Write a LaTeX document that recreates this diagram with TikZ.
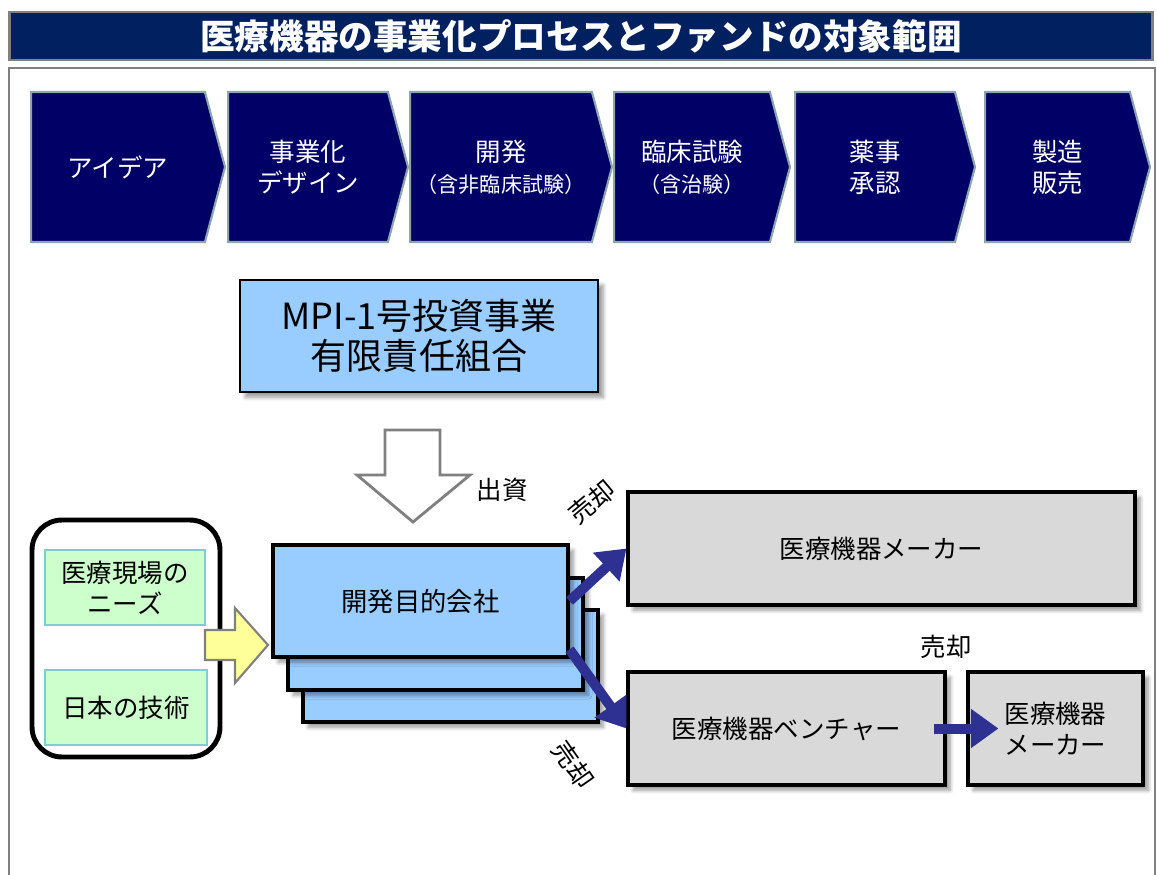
\documentclass[tikz,border=0pt]{standalone}
\usepackage{fontspec}
\setmainfont{Noto Sans CJK JP}
\usepackage{tikz}
\usetikzlibrary{positioning, shapes.symbols, arrows.meta, shadows.blur}

\definecolor{titlenavy}{HTML}{002060}
\definecolor{stagenavy}{HTML}{000066}
\definecolor{stageedge}{HTML}{8FA5AE}
\definecolor{fundblue}{HTML}{99CCFF}
\definecolor{seedgreen}{HTML}{CCFFCC}
\definecolor{seededge}{HTML}{7CCFCF}
\definecolor{makergray}{HTML}{D9D9D9}
\definecolor{sellnavy}{HTML}{2E3192}
\definecolor{framegray}{HTML}{808080}
\definecolor{feedyellow}{HTML}{FFFF99}

\newcommand{\stagenote}[1]{{\fontsize{12}{14}\selectfont #1}}

\begin{document}
\begin{tikzpicture}[
                    x=0.02cm, y=-0.02cm,
                    every node/.style={align=center, font=\fontsize{14.5}{17.5}\selectfont},
                    titlebar/.style={draw=framegray, line width=1.6pt, fill=titlenavy, text=white, minimum width=22.88cm, minimum height=0.96cm, font=\bfseries\fontsize{19.7}{22}\selectfont},
                    stage/.style={shape=signal, signal to=east, signal pointer angle=150, fill=stagenavy, draw=stageedge, line width=1.2pt, text=white, minimum height=3cm, inner sep=0pt},
                    panel/.style={draw, line width=1.8pt, minimum height=2.26cm, blur shadow={shadow xshift=3pt, shadow yshift=-3pt, shadow blur steps=6}},
                    fund/.style={panel, fill=fundblue, line width=0.8pt, minimum width=7.16cm, minimum height=2.24cm, font=\fontsize{20.5}{22.8}\selectfont},
                    company/.style={panel, fill=fundblue, minimum width=5.9cm, minimum height=2.24cm, font=\fontsize{15}{18}\selectfont},
                    maker/.style={panel, fill=makergray},
                    seed/.style={draw=seededge, fill=seedgreen, line width=0.8pt, minimum height=1.5cm},
                    sell/.style={-{Triangle[width=0.75cm, length=0.55cm]}, draw=sellnavy, line width=0.2cm},
                    hollow/.style={draw=framegray, line width=1.6pt, line join=miter}
                ]

                    \useasboundingbox (0,0) rectangle (1157,875);

                    % Title and frame
                    \node (title) [titlebar] at (581,36) {医療機器の事業化プロセスとファンドの対象範囲};
                    \draw[framegray, line width=1.6pt] (9,68) rectangle (1155,900);

                    % Stages
                    \node (idea) [stage, minimum width=3.88cm] at (118,167) {アイデア};
                    \node (design) [stage, minimum width=3.6cm] at (308,167) {事業化\\デザイン};
                    \node (develop) [stage, minimum width=4.04cm] at (501,167) {開発\\\stagenote{（含非臨床試験）}};
                    \node (trial) [stage, minimum width=3.52cm] at (692,167) {臨床試験\\\stagenote{（含治験）}};
                    \node (approval) [stage, minimum width=3.6cm] at (875,167) {薬事\\承認};
                    \node (sales) [stage, minimum width=3.3cm] at (1057.5,167) {製造\\販売};

                    % Fund
                    \node (fund) [fund] at (419,336) {MPI-1号投資事業\\有限責任組合};
                    \draw[hollow, fill=white] (385,430) -- (440,430) -- (440,475) -- (470,475) -- (413,522) -- (357,475) -- (385,475) -- cycle;
                    \node (invest) at (502,490) {出資};

                    % Seeds
                    \node (sources) [draw, line width=2.8pt, rounded corners=0.6cm, minimum width=3.76cm, minimum height=4.74cm] at (126,638.5) {};
                    \node (needs) [seed, minimum width=3.2cm] at (125,587.5) {医療現場の\\ニーズ};
                    \node (tech) [seed, minimum width=3.24cm] at (126,707.5) {日本の技術};
                    \draw[hollow, line width=1.2pt, fill=feedyellow] (205,630) -- (235,630) -- (235,608) -- (268,645) -- (235,683) -- (235,660) -- (205,660) -- cycle;

                    % Companies
                    \node (company3) [company] at (450.5,666) {};
                    \node (company2) [company] at (435.5,634) {};
                    \node (company) [company] at (420.5,601) {開発目的会社};

                    % Buyers
                    \node (maker) [maker, minimum width=10.14cm] at (881.5,548.5) {医療機器メーカー};
                    \node (venture) [maker, minimum width=6.34cm] at (786.5,728.5) {医療機器ベンチャー};
                    \node (maker2) [maker, minimum width=3.5cm] at (1055.5,728.5) {医療機器\\メーカー};

                    % Arrows
                    \draw[sell] (company.east) -- (maker.west);
                    \draw[sell] (company.-18) -- (venture.west);
                    \draw[sell, shorten <=-0.26cm, shorten >=-0.64cm] (venture.east) -- (maker2.west);

                    % Labels
                    \node (sell1) [rotate=40, inner sep=0pt] at (592,502) {売却};
                    \node (sell2) [rotate=-55, inner sep=0pt] at (573,765) {売却};
                    \node (sell3) at (946,647) {売却};

                \end{tikzpicture}
\end{document}
